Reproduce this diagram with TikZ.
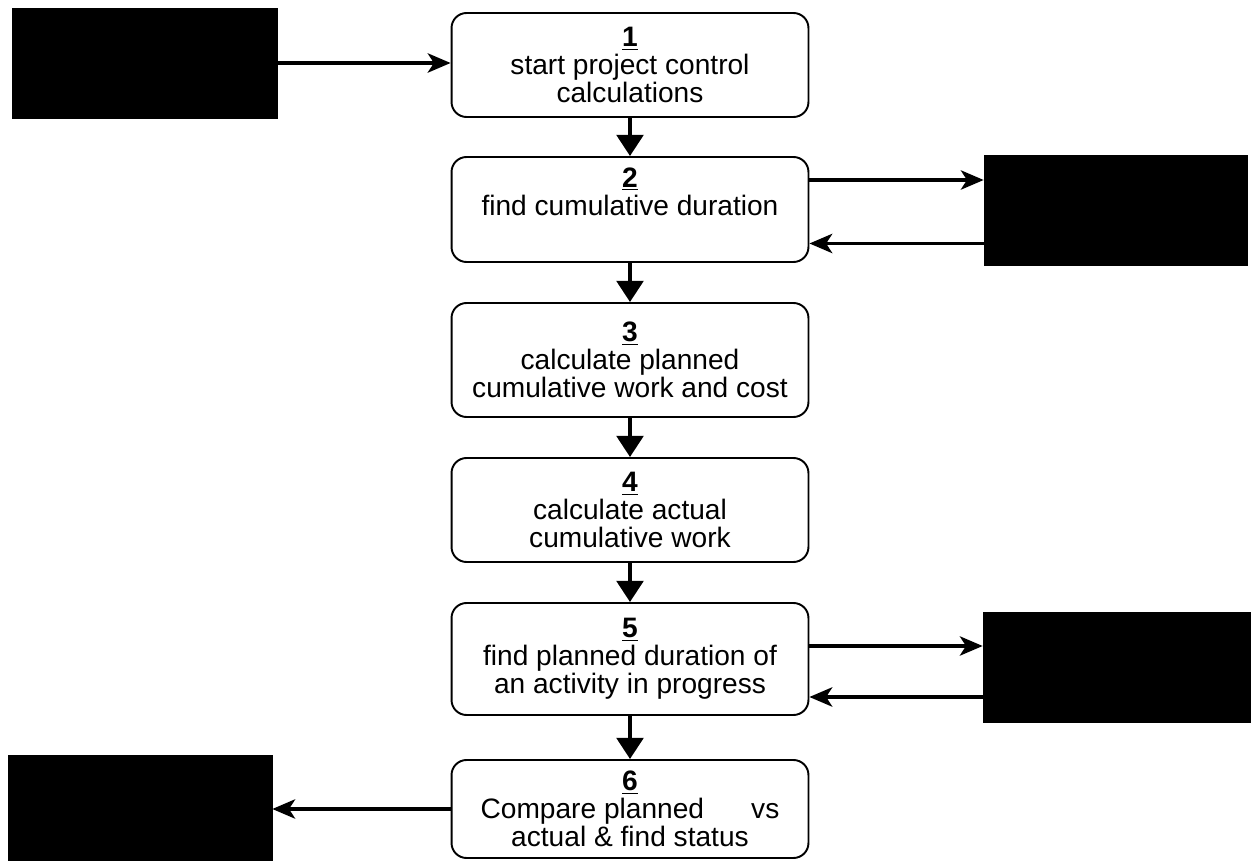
\documentclass[tikz,border=0pt]{standalone}
\usepackage{fontspec}
\setmainfont{Liberation Sans}
\usepackage{tikz}
\usetikzlibrary{arrows.meta}

\begin{document}
\begin{tikzpicture}[x=0.02cm,y=-0.02cm,
    procbox/.style={draw=black, line width=1.1pt, rounded corners=0.3cm, fill=white,
      minimum width=7.14cm, inner sep=0pt, align=center,
      font=\fontsize{16pt}{15.8pt}\selectfont},
    blackbox/.style={draw=black, fill=black, minimum width=5.3cm, minimum height=2.2cm, inner sep=0pt},
    vflow/.style={-{Triangle[length=12pt,width=15pt]}, line width=2.4pt},
    hflow/.style={-{Stealth[length=13pt,width=11pt,inset=3.5pt]}, line width=1.9pt}]
    \useasboundingbox (0,0) rectangle (1252,861);

    \node[blackbox] (infeed) at (144.5,63) {};
    \node[blackbox, minimum width=5.26cm] (tableB) at (1115.5,210) {};
    \node[blackbox, minimum width=5.34cm] (tableC) at (1116.5,667) {};
    \node[blackbox, minimum width=5.28cm, minimum height=2.1cm] (report) at (140,807.5) {};

    \node[procbox, minimum height=2.08cm] (s1) at (630,65) {\underline{\textbf{1}}\\start project control\\calculations};
    \node[procbox, minimum height=2.1cm] (s2) at (630,209.5) {\underline{\textbf{2}}\\find cumulative duration\\\strut};
    \node[procbox, minimum height=2.28cm] (s3) at (630,360) {\underline{\textbf{3}}\\calculate planned\\cumulative work and cost};
    \node[procbox, minimum height=2.08cm] (s4) at (630,510) {\underline{\textbf{4}}\\calculate actual\\cumulative work};
    \node[procbox, minimum height=2.24cm] (s5) at (630,659) {\underline{\textbf{5}}\\find planned duration of\\an activity in progress};
    \node[procbox, minimum height=1.96cm] (s6) at (630,809) {\underline{\textbf{6}}\\Compare planned\hspace{1.4em} vs\\actual \& find status};

    \draw[vflow] (s1) -- (s2);
    \draw[vflow] (s2) -- (s3);
    \draw[vflow] (s3) -- (s4);
    \draw[vflow] (s4) -- (s5);
    \draw[vflow] (s5) -- (s6);

    \coordinate (o2a) at ([yshift=0.59cm]s2.east);
    \coordinate (o2b) at ([yshift=-0.67cm]tableB.west);
    \coordinate (o5a) at ([yshift=0.26cm]s5.east);
    \coordinate (o5b) at ([yshift=-0.6cm]tableC.west);

    \draw[hflow] (infeed.east) -- (infeed.east -| s1.west);
    \draw[hflow] (o2a) -- (o2a -| tableB.west);
    \draw[hflow] (o2b) -- (o2b -| s2.east);
    \draw[hflow] (o5a) -- (o5a -| tableC.west);
    \draw[hflow] (o5b) -- (o5b -| s5.east);
    \draw[hflow] (s6.west) -- (s6.west -| report.east);
\end{tikzpicture}
\end{document}
